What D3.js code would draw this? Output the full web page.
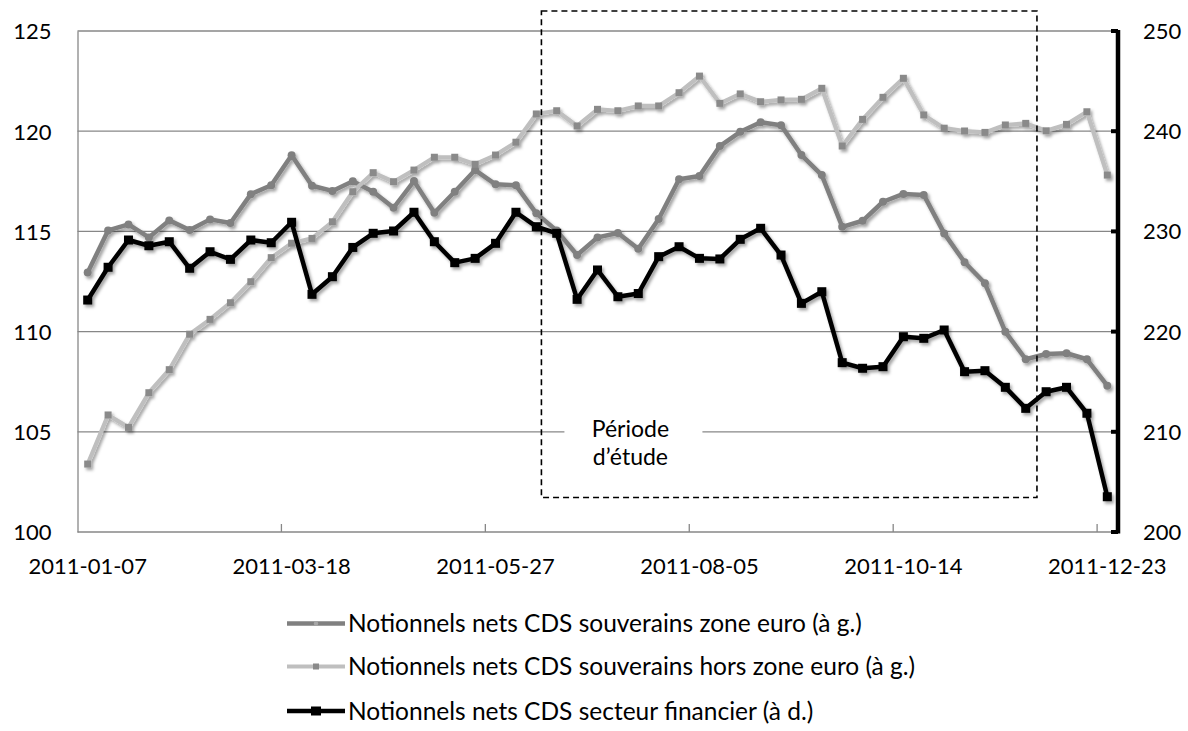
<!DOCTYPE html>
<html>
<head>
<meta charset="utf-8">
<script src="https://cdn.jsdelivr.net/npm/d3@7"></script>
<style>
  html, body { margin: 0; padding: 0; background: #fff; }
  svg { display: block; }
  text { font-family: Lato, "Open Sans", sans-serif; fill: #000; }
</style>
</head>
<body>
<svg id="chart" width="1188" height="731"></svg>
<script>
// ---------- DATA ----------
const categories = [
  "2011-01-07","2011-01-14","2011-01-21","2011-01-28","2011-02-04","2011-02-11","2011-02-18","2011-02-25",
  "2011-03-04","2011-03-11","2011-03-18","2011-03-25","2011-04-01","2011-04-08","2011-04-15","2011-04-22",
  "2011-04-29","2011-05-06","2011-05-13","2011-05-20","2011-05-27","2011-06-03","2011-06-10","2011-06-17",
  "2011-06-24","2011-07-01","2011-07-08","2011-07-15","2011-07-22","2011-07-29","2011-08-05","2011-08-12",
  "2011-08-19","2011-08-26","2011-09-02","2011-09-09","2011-09-16","2011-09-23","2011-09-30","2011-10-07",
  "2011-10-14","2011-10-21","2011-10-28","2011-11-04","2011-11-11","2011-11-18","2011-11-25","2011-12-02",
  "2011-12-09","2011-12-16","2011-12-23"
];

// Notionnels nets CDS souverains zone euro (à g.)
const zoneEuro = [
  112.95,115.05,115.35,114.70,115.55,115.07,115.60,115.42,116.86,117.30,
  118.80,117.28,117.02,117.50,116.98,116.18,117.51,115.93,116.98,118.06,
  117.35,117.30,115.90,115.04,113.82,114.70,114.92,114.13,115.62,117.60,
  117.76,119.26,119.97,120.45,120.30,118.81,117.81,115.23,115.53,116.48,
  116.87,116.82,114.90,113.46,112.41,109.99,108.62,108.88,108.92,108.62,
  107.30
];

// Notionnels nets CDS souverains hors zone euro (à g.)
const horsZone = [
  103.39,105.84,105.22,106.95,108.10,109.87,110.61,111.44,112.49,113.69,
  114.41,114.65,115.48,116.98,117.93,117.48,118.06,118.70,118.70,118.35,
  118.81,119.45,120.86,121.02,120.26,121.09,121.02,121.26,121.26,121.92,
  122.75,121.39,121.86,121.47,121.56,121.59,122.14,119.26,120.59,121.69,
  122.64,120.81,120.15,120.01,119.94,120.31,120.39,120.02,120.34,120.97,
  117.81
];

// Notionnels nets CDS secteur financier (à d.)
const financier = [
  223.15,226.42,229.14,228.57,228.97,226.32,227.97,227.21,229.14,228.87,
  230.91,223.72,225.48,228.40,229.81,230.04,231.91,228.97,226.88,227.31,
  228.81,231.91,230.47,229.81,223.22,226.15,223.48,223.80,227.48,228.47,
  227.31,227.25,229.21,230.31,227.64,222.82,223.98,216.90,216.34,216.50,
  219.49,219.33,220.16,216.00,216.10,214.44,212.34,214.00,214.44,211.85,
  203.52
];

const leftTicks = [100, 105, 110, 115, 120, 125];
const rightTicks = [200, 210, 220, 230, 240, 250];
const xLabelIdx = [0, 10, 20, 30, 40, 50];
const xTickIdx = [10, 20, 30, 40, 50];

const seriesNames = [
  "Notionnels nets CDS souverains zone euro (à g.)",
  "Notionnels nets CDS souverains hors zone euro (à g.)",
  "Notionnels nets CDS secteur financier (à d.)"
];

// study period annotation (category index range, left-axis value range)
const studyIdx = [22.25, 46.55];
const studyVal = [101.72, 126.0];
const studyLabel = ["Période", "d’étude"];

// ---------- SCALES ----------
const svg = d3.select("#chart");
svg.append("rect").attr("width", 1188).attr("height", 731).attr("fill", "#fff");

const defs = svg.append("defs");
const f = defs.append("filter").attr("id", "shadow")
  .attr("x", "-5%").attr("y", "-5%").attr("width", "110%").attr("height", "120%");
f.append("feDropShadow").attr("dx", 2).attr("dy", 2.5).attr("stdDeviation", 1.7)
  .attr("flood-color", "#000").attr("flood-opacity", 0.36);

const x = d3.scalePoint().domain(d3.range(categories.length)).range([77.5, 1117.5]).padding(0.5);
const step = x.step();
const xi = i => x(0) + i * step;
const yL = d3.scaleLinear().domain([100, 125]).range([532, 31]);
const yR = d3.scaleLinear().domain([200, 250]).range([532, 31]);

const gridColor = "#878787";
const axisFont = "22px";

// gridlines
svg.append("g").selectAll("line").data(leftTicks.slice(1)).join("line")
  .attr("x1", 77.5).attr("x2", 1116).attr("y1", d => yL(d)).attr("y2", d => yL(d))
  .attr("stroke", gridColor).attr("stroke-width", 1.3);

// left axis
const gL = svg.append("g").attr("transform", "translate(77.5,0)")
  .call(d3.axisLeft(yL).tickValues(leftTicks).tickSize(0).tickPadding(26));
gL.select(".domain").attr("stroke", gridColor).attr("stroke-width", 1.3);
gL.selectAll("text").style("font-size", axisFont).style("font-family", "Lato").attr("dy", "0.36em");

// bottom axis
const gB = svg.append("g").attr("transform", "translate(0,532)");
gB.append("line").attr("x1", 77.5).attr("x2", 1117).attr("stroke", gridColor).attr("stroke-width", 1.3);
gB.selectAll(".tk").data(xTickIdx).join("line").attr("class", "tk")
  .attr("x1", d => xi(d) - step / 2).attr("x2", d => xi(d) - step / 2)
  .attr("y1", -8).attr("y2", 0).attr("stroke", gridColor).attr("stroke-width", 1.3);
gB.selectAll(".lb").data(xLabelIdx).join("text").attr("class", "lb")
  .attr("x", d => x(d)).attr("y", 42).attr("text-anchor", "middle")
  .style("font-size", axisFont).text(d => categories[d]);

// ---------- SERIES ----------
const lineL = d3.line().x((d, i) => x(i)).y(d => yL(d));
const lineR = d3.line().x((d, i) => x(i)).y(d => yR(d));

const gS = svg.append("g").attr("filter", "url(#shadow)");

// zone euro
gS.append("path").datum(zoneEuro).attr("d", lineL).attr("fill", "none")
  .attr("stroke", "#808080").attr("stroke-width", 4.5).attr("stroke-linejoin", "round");
gS.append("g").selectAll("circle").data(zoneEuro).join("circle")
  .attr("cx", (d, i) => x(i)).attr("cy", d => yL(d)).attr("r", 4).attr("fill", "#808080");

// hors zone
gS.append("path").datum(horsZone).attr("d", lineL).attr("fill", "none")
  .attr("stroke", "#bfbfbf").attr("stroke-width", 4.2).attr("stroke-linejoin", "round");
gS.append("g").selectAll("rect").data(horsZone).join("rect")
  .attr("x", (d, i) => x(i) - 3.5).attr("y", d => yL(d) - 3.5).attr("width", 7).attr("height", 7)
  .attr("fill", "#8a8a8a");

// financier
gS.append("path").datum(financier).attr("d", lineR).attr("fill", "none")
  .attr("stroke", "#000").attr("stroke-width", 4.5).attr("stroke-linejoin", "round");
gS.append("g").selectAll("rect").data(financier).join("rect")
  .attr("x", (d, i) => x(i) - 4.5).attr("y", d => yR(d) - 4.5).attr("width", 9).attr("height", 9)
  .attr("fill", "#000");

// right axis
const gR = svg.append("g").attr("transform", "translate(1118,0)");
gR.append("line").attr("y1", 30).attr("y2", 533.5).attr("stroke", "#000").attr("stroke-width", 4.5);
gR.selectAll(".tk").data(rightTicks).join("line").attr("class", "tk")
  .attr("x1", -7).attr("x2", 0).attr("y1", d => yR(d)).attr("y2", d => yR(d))
  .attr("stroke", "#000").attr("stroke-width", 4);
gR.selectAll(".lb").data(rightTicks).join("text").attr("class", "lb")
  .attr("x", 25).attr("y", d => yR(d)).attr("dy", "0.36em")
  .style("font-size", axisFont).text(d => d);

// ---------- STUDY PERIOD ----------
const bx0 = xi(studyIdx[0]), bx1 = xi(studyIdx[1]);
const by0 = yL(studyVal[1]), by1 = yL(studyVal[0]);
svg.append("rect").attr("x", bx0).attr("y", by0).attr("width", bx1 - bx0).attr("height", by1 - by0)
  .attr("fill", "none").attr("stroke", "#000").attr("stroke-width", 1.6).attr("stroke-dasharray", "6,4");

const tcx = bx0 + 89;
svg.append("rect").attr("x", tcx - 66).attr("y", yL(105) - 24).attr("width", 138).attr("height", 62)
  .attr("fill", "#fff");
svg.append("g").selectAll("text").data(studyLabel).join("text")
  .attr("text-anchor", "middle").style("font-size", "23px")
  .attr("x", tcx).attr("y", (d, i) => yL(105) + 4.8 + i * 28.2).text(d => d);

// ---------- LEGEND ----------
const legY = [623.5, 666.5, 711];
const lg = svg.append("g");
const lx0 = 287, lx1 = 345;
// row 1
lg.append("line").attr("x1", lx0).attr("x2", lx1).attr("y1", legY[0]).attr("y2", legY[0])
  .attr("stroke", "#808080").attr("stroke-width", 4.5);
lg.append("circle").attr("cx", (lx0 + lx1) / 2).attr("cy", legY[0]).attr("r", 2.2).attr("fill", "#a6a6a6");
// row 2
lg.append("line").attr("x1", lx0).attr("x2", lx1).attr("y1", legY[1]).attr("y2", legY[1])
  .attr("stroke", "#bfbfbf").attr("stroke-width", 4.2);
lg.append("rect").attr("x", (lx0 + lx1) / 2 - 3).attr("y", legY[1] - 3).attr("width", 6).attr("height", 6)
  .attr("fill", "#8a8a8a");
// row 3
lg.append("line").attr("x1", lx0).attr("x2", lx1).attr("y1", legY[2]).attr("y2", legY[2])
  .attr("stroke", "#000").attr("stroke-width", 4.5);
lg.append("rect").attr("x", (lx0 + lx1) / 2 - 5).attr("y", legY[2] - 4.5).attr("width", 10).attr("height", 9)
  .attr("fill", "#000");
lg.selectAll("text").data(seriesNames).join("text")
  .attr("x", 348).attr("y", (d, i) => legY[i]).attr("dy", "0.36em")
  .style("font-size", "24.5px").text(d => d);
</script>
</body>
</html>
